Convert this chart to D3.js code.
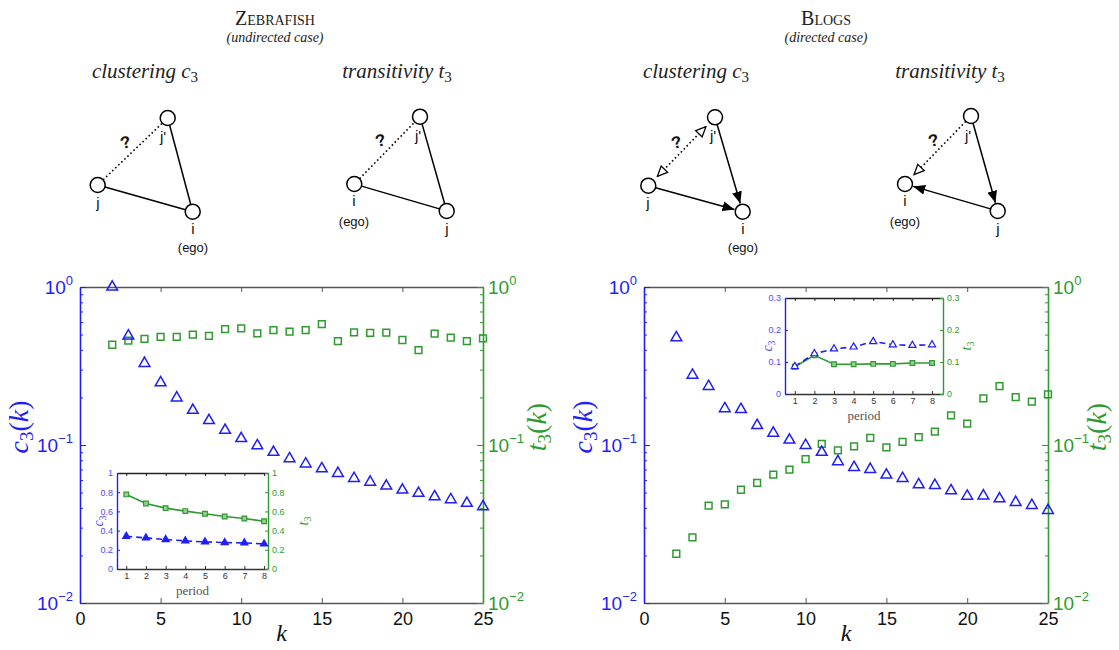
<!DOCTYPE html>
<html><head><meta charset="utf-8">
<script src="https://cdn.jsdelivr.net/npm/d3@7"></script>
<style>body{margin:0;background:#fff}</style>
</head><body><svg id="c" width="1119" height="650"></svg>
<script>
// ---------- data ----------
const kValues=[2,3,4,5,6,7,8,9,10,11,12,13,14,15,16,17,18,19,20,21,22,23,24,25];
const zebraC3=[1.0,0.49,0.329,0.248,0.199,0.166,0.143,0.124,0.110,0.099,0.090,0.082,0.076,0.0708,0.0662,0.0615,0.0583,0.055,0.0519,0.0495,0.0471,0.0451,0.0428,0.0407];
const zebraT3=[0.431,0.457,0.469,0.483,0.483,0.50,0.49,0.542,0.548,0.509,0.534,0.522,0.534,0.583,0.455,0.517,0.512,0.514,0.462,0.399,0.507,0.478,0.455,0.473];
const blogsC3=[0.478,0.277,0.235,0.170,0.168,0.133,0.119,0.1076,0.0995,0.090,0.0786,0.0722,0.0702,0.0646,0.0615,0.0561,0.0556,0.0514,0.0475,0.0477,0.0457,0.0434,0.0415,0.0386];
const blogsT3=[0.0205,0.026,0.0413,0.0421,0.0521,0.0575,0.0649,0.0698,0.0815,0.1015,0.0925,0.098,0.111,0.0967,0.1045,0.112,0.1214,0.154,0.1364,0.197,0.236,0.201,0.188,0.209];
const periods=[1,2,3,4,5,6,7,8];
const zebraInsetC3=[0.341,0.324,0.307,0.293,0.282,0.275,0.272,0.261];
const zebraInsetT3=[0.777,0.683,0.634,0.603,0.575,0.547,0.526,0.498];
const blogsInsetC3=[0.086,0.126,0.141,0.147,0.164,0.154,0.152,0.154];
const blogsInsetT3=[0.085,0.121,0.093,0.093,0.094,0.094,0.097,0.097];
const xTicks=[0,5,10,15,20,25];
const logTicks=[0.01,0.1,1];
const logTickExp=["−2","−1","0"];
const zebraInsetTicks=[0,0.2,0.4,0.6,0.8,1];
const zebraInsetTickLabels=["0","0.2","0.4","0.6","0.8","1"];
const blogsInsetTicks=[0,0.1,0.2,0.3];
const blogsInsetTickLabels=["0","0.1","0.2","0.3"];

// ---------- style ----------
const BLUE="#1f1ff5", GREEN="#2f9a2f", AX="#555", LBLUE="#4a4aff";
const SANS="'Liberation Sans', Arial, sans-serif";
const SERIF="'Liberation Serif', 'DejaVu Serif', serif";
const svg=d3.select("#c");

const defs=svg.append("defs");
defs.append("marker").attr("id","fillArrow").attr("viewBox","0 0 12 10").attr("refX",12).attr("refY",5)
  .attr("markerWidth",12).attr("markerHeight",10).attr("markerUnits","userSpaceOnUse").attr("orient","auto")
  .append("path").attr("d","M0,0 L12,5 L0,10 Z").attr("fill","#000");
defs.append("marker").attr("id","openArrow").attr("viewBox","-1 -1 12 11").attr("refX",10).attr("refY",4.5)
  .attr("markerWidth",12).attr("markerHeight",11).attr("markerUnits","userSpaceOnUse").attr("orient","auto")
  .append("path").attr("d","M0,0 L10,4.5 L0,9 Z").attr("fill","#fff").attr("stroke","#000").attr("stroke-width",1.3);
defs.append("marker").attr("id","openArrowStart").attr("viewBox","-1 -1 12 11").attr("refX",10).attr("refY",4.5)
  .attr("markerWidth",12).attr("markerHeight",11).attr("markerUnits","userSpaceOnUse").attr("orient","auto-start-reverse")
  .append("path").attr("d","M0,0 L10,4.5 L0,9 Z").attr("fill","#fff").attr("stroke","#000").attr("stroke-width",1.3);

// ---------- main plots ----------
function mainPlot(left,right,c3,t3,yLabL,yLabR){
  const top=287,bottom=603;
  const x=d3.scaleLinear().domain([0,25]).range([left,right]);
  const y=d3.scaleLog().domain([0.01,1]).range([bottom,top]);
  const g=svg.append("g");
  const minor=y.ticks().filter(v=>!logTicks.some(t=>Math.abs(t-v)<1e-9));
  const styleAxis=(sel,col)=>{sel.selectAll("path").attr("stroke",col).attr("stroke-width",1.6);sel.selectAll("line").attr("stroke",col);};
  g.append("g").attr("transform",`translate(0,${bottom})`)
    .call(d3.axisBottom(x).tickValues(xTicks).tickSizeInner(-5).tickSizeOuter(0).tickPadding(9))
    .call(s=>styleAxis(s,AX))
    .call(s=>s.selectAll("text").attr("font-family",SANS).attr("font-size",18).attr("fill","#111"));
  g.append("g").attr("transform",`translate(0,${top})`)
    .call(d3.axisTop(x).tickValues(xTicks).tickSizeInner(-5).tickSizeOuter(0).tickFormat(""))
    .call(s=>styleAxis(s,AX));
  g.append("g").attr("transform",`translate(${left},0)`)
    .call(d3.axisLeft(y).tickValues(logTicks).tickSizeInner(-6).tickSizeOuter(0).tickFormat(""))
    .call(s=>styleAxis(s,BLUE));
  g.append("g").attr("transform",`translate(${left},0)`)
    .call(d3.axisLeft(y).tickValues(minor).tickSizeInner(-3).tickSizeOuter(0).tickFormat(""))
    .call(s=>{s.select("path").remove();s.selectAll("line").attr("stroke",BLUE);});
  g.append("g").attr("transform",`translate(${right},0)`)
    .call(d3.axisRight(y).tickValues(logTicks).tickSizeInner(-6).tickSizeOuter(0).tickFormat(""))
    .call(s=>styleAxis(s,GREEN));
  g.append("g").attr("transform",`translate(${right},0)`)
    .call(d3.axisRight(y).tickValues(minor).tickSizeInner(-3).tickSizeOuter(0).tickFormat(""))
    .call(s=>{s.select("path").remove();s.selectAll("line").attr("stroke",GREEN);});
  logTicks.forEach((v,i)=>{
    const tl=g.append("text").attr("x",left-7).attr("y",y(v)+7).attr("text-anchor","end")
      .attr("font-family",SANS).attr("font-size",19).attr("fill",BLUE);
    tl.append("tspan").text("10");
    tl.append("tspan").attr("dy",-9).attr("font-size",13).text(logTickExp[i]);
    const tr=g.append("text").attr("x",right+5).attr("y",y(v)+7).attr("text-anchor","start")
      .attr("font-family",SANS).attr("font-size",19).attr("fill",GREEN);
    tr.append("tspan").text("10");
    tr.append("tspan").attr("dy",-9).attr("font-size",13).text(logTickExp[i]);
  });
  g.append("text").attr("x",(left+right)/2).attr("y",641).attr("text-anchor","middle")
    .attr("font-family",SERIF).attr("font-style","italic").attr("font-size",24).attr("fill","#111").text("k");
  const ylab=(cx,sym,col)=>{
    const t=g.append("text").attr("transform",`translate(${cx+6},427) rotate(-90)`).attr("text-anchor","middle")
      .attr("font-family",SERIF).attr("font-size",28).attr("fill",col);
    t.append("tspan").attr("font-style","italic").text(sym);
    t.append("tspan").attr("font-size",19).attr("dy",5).text("3");
    t.append("tspan").attr("dy",-5).text("(");
    t.append("tspan").attr("font-style","italic").text("k");
    t.append("tspan").text(")");
  };
  ylab(yLabL,"c",BLUE);
  ylab(yLabR,"t",GREEN);
  g.append("g").selectAll("path").data(kValues.map((k,i)=>[k,t3[i]])).join("path")
    .attr("d",d3.symbol(d3.symbolSquare,46)).attr("transform",d=>`translate(${x(d[0])},${y(d[1])})`)
    .attr("fill","none").attr("stroke",GREEN).attr("stroke-width",1.5);
  g.append("g").selectAll("path").data(kValues.map((k,i)=>[k,c3[i]])).join("path")
    .attr("d",d3.symbol(d3.symbolTriangle,50)).attr("transform",d=>`translate(${x(d[0])},${y(d[1])})`)
    .attr("fill","none").attr("stroke",BLUE).attr("stroke-width",1.5);
}
mainPlot(80,483,zebraC3,zebraT3,22,540);
mainPlot(644,1048,blogsC3,blogsT3,586,1100);

// ---------- insets ----------
function inset(b,xDom,yDom,ticks,tickLabels,c3,t3,filledTri,labC,labT){
  const x=d3.scaleLinear().domain(xDom).range([b.l,b.r]);
  const y=d3.scaleLinear().domain(yDom).range([b.b,b.t]);
  const g=svg.append("g");
  g.append("rect").attr("x",b.l).attr("y",b.t).attr("width",b.r-b.l).attr("height",b.b-b.t).attr("fill","#fff");
  const st=(s,col)=>{s.selectAll("path").attr("stroke",col).attr("stroke-width",1.4);s.selectAll("line").attr("stroke",col);};
  g.append("g").attr("transform",`translate(0,${b.b})`)
    .call(d3.axisBottom(x).tickValues(periods).tickSizeInner(-3).tickSizeOuter(0).tickPadding(4))
    .call(s=>st(s,"#333"))
    .call(s=>s.selectAll("text").attr("font-family",SANS).attr("font-size",9).attr("fill","#333"));
  g.append("g").attr("transform",`translate(0,${b.t})`)
    .call(d3.axisTop(x).tickValues(periods).tickSizeInner(-3).tickSizeOuter(0).tickFormat(""))
    .call(s=>st(s,"#222"));
  g.append("g").attr("transform",`translate(${b.l},0)`)
    .call(d3.axisLeft(y).tickValues(ticks).tickSizeInner(-3).tickSizeOuter(0).tickPadding(4).tickFormat((d,i)=>tickLabels[i]))
    .call(s=>st(s,BLUE))
    .call(s=>s.selectAll("text").attr("font-family",SANS).attr("font-size",9).attr("fill",LBLUE));
  g.append("g").attr("transform",`translate(${b.r},0)`)
    .call(d3.axisRight(y).tickValues(ticks).tickSizeInner(-3).tickSizeOuter(0).tickPadding(4).tickFormat((d,i)=>tickLabels[i]))
    .call(s=>st(s,GREEN))
    .call(s=>s.selectAll("text").attr("font-family",SANS).attr("font-size",9).attr("fill",GREEN));
  g.append("text").attr("x",(b.l+b.r)/2).attr("y",b.b+26).attr("text-anchor","middle")
    .attr("font-family",SERIF).attr("font-size",13).attr("fill","#555").text("period");
  const lab=(cx,sym,col)=>{
    const t=g.append("text").attr("transform",`translate(${cx},${(b.t+b.b)/2}) rotate(-90)`).attr("text-anchor","middle")
      .attr("font-family",SERIF).attr("font-size",14).attr("fill",col);
    t.append("tspan").attr("font-style","italic").text(sym);
    t.append("tspan").attr("font-size",10).attr("dy",3).text("3");
  };
  lab(labC,"c",LBLUE); lab(labT,"t",GREEN);
  const line=d3.line().x((d,i)=>x(periods[i])).y(d=>y(d));
  g.append("path").attr("d",line(t3)).attr("fill","none").attr("stroke",GREEN).attr("stroke-width",1.6);
  g.append("path").attr("d",line(c3)).attr("fill","none").attr("stroke",BLUE).attr("stroke-width",1.6).attr("stroke-dasharray","6,4");
  g.append("g").selectAll("path").data(t3).join("path")
    .attr("d",d3.symbol(d3.symbolSquare,22)).attr("transform",(d,i)=>`translate(${x(periods[i])},${y(d)})`)
    .attr("fill","#9c9").attr("stroke",GREEN).attr("stroke-width",1.2);
  g.append("g").selectAll("path").data(c3).join("path")
    .attr("d",d3.symbol(d3.symbolTriangle,22)).attr("transform",(d,i)=>`translate(${x(periods[i])},${y(d)})`)
    .attr("fill",filledTri?BLUE:"#fff").attr("stroke",BLUE).attr("stroke-width",1.2);
}
inset({l:117,r:268,t:473,b:569},[0.53,8.2],[0,1],zebraInsetTicks,zebraInsetTickLabels,zebraInsetC3,zebraInsetT3,true,103,308);
inset({l:785,r:943,t:298,b:394},[0.5,8.56],[0,0.3],blogsInsetTicks,blogsInsetTickLabels,blogsInsetC3,blogsInsetT3,false,772,971);

// ---------- titles ----------
function title(cx,main,sub){
  svg.append("text").attr("x",cx).attr("y",25).attr("text-anchor","middle").attr("font-family",SERIF)
    .attr("font-size",20).attr("font-variant","small-caps").attr("fill","#222").text(main);
  svg.append("text").attr("x",cx).attr("y",42).attr("text-anchor","middle").attr("font-family",SERIF)
    .attr("font-size",14).attr("font-style","italic").attr("fill","#222").text(sub);
}
title(275,"Zebrafish","(undirected case)");
title(826,"Blogs","(directed case)");
function subTitle(cx,word,sym){
  const t=svg.append("text").attr("x",cx).attr("y",78).attr("text-anchor","middle").attr("font-family",SERIF)
    .attr("font-size",21).attr("font-style","italic").attr("fill","#222");
  t.append("tspan").text(word+" "+sym);
  t.append("tspan").attr("font-style","normal").attr("font-size",15).attr("dy",4).text("3");
}
subTitle(145,"clustering","c");
subTitle(397,"transitivity","t");
subTitle(696,"clustering","c");
subTitle(950,"transitivity","t");

// ---------- diagrams ----------
const R=7.5;
function shorten(a,b,da,db){
  const dx=b[0]-a[0],dy=b[1]-a[1],L=Math.hypot(dx,dy);
  return [[a[0]+dx*da/L,a[1]+dy*da/L],[b[0]-dx*db/L,b[1]-dy*db/L]];
}
function diagram(nodes,edges,labels,q){
  const g=svg.append("g");
  edges.forEach(e=>{
    const a=nodes[e.from],b=nodes[e.to];
    const [p,q2]=shorten(a,b,e.startArrow?13:R,e.arrow==="fill"?R+1:(e.arrow==="open"?13:R));
    const l=g.append("line").attr("x1",p[0]).attr("y1",p[1]).attr("x2",q2[0]).attr("y2",q2[1])
      .attr("stroke","#000").attr("stroke-width",e.dotted?1.6:1.5);
    if(e.dotted) l.attr("stroke-dasharray","1.6,2.6");
    if(e.arrow==="fill") l.attr("marker-end","url(#fillArrow)");
    if(e.arrow==="open") l.attr("marker-end","url(#openArrow)");
    if(e.startArrow) l.attr("marker-start","url(#openArrowStart)");
  });
  Object.values(nodes).forEach(n=>{
    g.append("circle").attr("cx",n[0]).attr("cy",n[1]).attr("r",R).attr("fill","#fff").attr("stroke","#000").attr("stroke-width",1.5);
  });
  labels.forEach(l=>{
    g.append("text").attr("x",l[0]).attr("y",l[1]).attr("text-anchor","middle").attr("font-family",SANS)
      .attr("font-size",l[3]||15).attr("fill","#111").text(l[2]);
  });
  g.append("text").attr("transform",`translate(${q[0]},${q[1]}) rotate(-15)`).attr("text-anchor","middle")
    .attr("font-family",SANS).attr("font-weight","bold").attr("font-size",17).attr("fill","#111").text("?");
}

diagram({jp:[167.7,118],j:[97.7,185],i:[192.7,211.7]},
  [{from:"j",to:"jp",dotted:true},{from:"jp",to:"i"},{from:"j",to:"i"}],
  [[163,142,"j'"],[98,208,"j"],[193,234,"i"],[193,252,"(ego)",13]],[127,148]);
diagram({jp:[420,116.7],i:[354.3,184],j:[446.7,211]},
  [{from:"i",to:"jp",dotted:true},{from:"jp",to:"j"},{from:"i",to:"j"}],
  [[418,141,"j'"],[354,206,"i"],[354,226,"(ego)",13],[447,234,"j"]],[382,146]);
diagram({jp:[715,117.3],j:[648.3,185.7],i:[742.7,211.7]},
  [{from:"j",to:"jp",dotted:true,arrow:"open",startArrow:true},{from:"jp",to:"i",arrow:"fill"},{from:"j",to:"i",arrow:"fill"}],
  [[713,141,"j'"],[648,208,"j"],[743,234,"i"],[743,252,"(ego)",13]],[678,148]);
diagram({jp:[971,116],i:[905,184],j:[997.7,211]},
  [{from:"jp",to:"i",dotted:true,arrow:"open"},{from:"jp",to:"j",arrow:"fill"},{from:"j",to:"i",arrow:"fill"}],
  [[968,141,"j'"],[905,206,"i"],[905,226,"(ego)",13],[998,234,"j"]],[935,146]);
</script></body></html>
